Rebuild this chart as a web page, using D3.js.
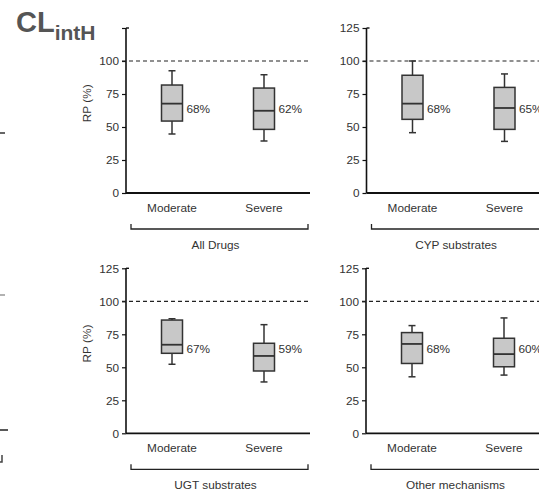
<!DOCTYPE html>
<html><head><meta charset="utf-8">
<script src="https://cdn.jsdelivr.net/npm/d3@7"></script>
<style>
html,body{margin:0;padding:0;background:#fff;}
svg{display:block;font-family:"Liberation Sans",Arial,sans-serif;}
</style></head>
<body><svg id="c" width="539" height="492"></svg>
<script>
// ---- data ----
const panelNames = ["All Drugs", "CYP substrates", "UGT substrates", "Other mechanisms"];
const categories = ["Moderate", "Severe"];
const whiskerLow  = [[44.7, 39.4], [45.7, 39.1], [52.3, 38.9], [42.8, 44.1]];
const q1          = [[54.5, 48.2], [55.8, 48.2], [60.6, 47.2], [52.9, 50.4]];
const median      = [[67.7, 62.3], [67.7, 64.4], [67.1, 58.6], [67.7, 60.0]];
const q3          = [[81.8, 79.5], [89.2, 80.0], [85.8, 68.2], [76.3, 72.0]];
const whiskerHigh = [[92.6, 89.6], [100, 90.2], [86.8, 82.3], [81.6, 87.4]];
const medianLabels = [["68%", "62%"], ["68%", "65%"], ["67%", "59%"], ["68%", "60%"]];
const yTicks = [0, 25, 50, 75, 100, 125];
const referenceLine = 100;

// ---- layout ----
const svg = d3.select("#c");
const axisX = [126, 366.5, 126, 366];
const baseY = [193, 193, 433.3, 433.3];
const plotW = 184, plotH = 165;
const boxW = 21, capW = 7;
const textCol = "#333";
const fs = 11.8;

// title
const title = svg.append("text").attr("x", 16).attr("y", 32)
  .attr("fill", "#555").attr("font-weight", "bold").attr("font-size", 29);
title.append("tspan").text("CL");
title.append("tspan").attr("font-size", 21).attr("dy", 8).text("intH");

// fragments of neighbouring (cropped) panels on the left edge
const frag = svg.append("g").attr("stroke-width", 1.5).attr("fill", "none");
frag.append("line").attr("x1", 0).attr("x2", 5).attr("y1", 133).attr("y2", 133).attr("stroke", "#333");
frag.append("line").attr("x1", 0).attr("x2", 5).attr("y1", 295).attr("y2", 295).attr("stroke", "#999");
frag.append("line").attr("x1", 0).attr("x2", 8).attr("y1", 430).attr("y2", 430).attr("stroke", "#222");
frag.append("path").attr("d", "M0,462 H2 V455").attr("stroke", "#444");

panelNames.forEach((name, p) => {
  const g = svg.append("g").attr("transform", `translate(${axisX[p]},${baseY[p]})`);
  const y = d3.scaleLinear().domain([0, 125]).range([0, -plotH]);
  const x = d3.scalePoint().domain(categories).range([0, plotW]).padding(0.5);

  // y axis
  const yAxis = d3.axisLeft(y).tickValues(yTicks).tickSize(4).tickPadding(3)
    .tickFormat(d => (p === 0 && d === 125) ? "" : d);
  const ya = g.append("g").call(yAxis);
  ya.select(".domain").attr("stroke", "#111").attr("stroke-width", 1.6).attr("d", `M0,${y(125)}V0`);
  ya.selectAll(".tick line").attr("stroke", "#111").attr("stroke-width", 1.2);
  ya.selectAll(".tick text").attr("font-size", fs).attr("fill", textCol)
    .attr("font-family", "Liberation Sans, Arial, sans-serif");
  // small cap at the top of the axis
  g.append("line").attr("x1", 0).attr("x2", 3).attr("y1", y(125)).attr("y2", y(125))
    .attr("stroke", "#111").attr("stroke-width", 1.4);

  // x axis line
  g.append("line").attr("x1", 0).attr("x2", plotW).attr("y1", 0).attr("y2", 0)
    .attr("stroke", "#111").attr("stroke-width", 1.8);

  // reference dashed line
  g.append("line").attr("x1", -4).attr("x2", plotW).attr("y1", y(referenceLine)).attr("y2", y(referenceLine))
    .attr("stroke", "#222").attr("stroke-width", 1.2).attr("stroke-dasharray", "4,3");

  // category labels
  categories.forEach(c => {
    g.append("text").attr("x", x(c)).attr("y", 19).attr("text-anchor", "middle")
      .attr("font-size", fs).attr("fill", textCol).text(c);
  });

  // bracket + group label
  g.append("path").attr("d", `M5,31 V36 H${plotW - 2} V31`).attr("fill", "none")
    .attr("stroke", "#222").attr("stroke-width", 1.3);
  g.append("text").attr("x", (5 + plotW) / 2 - 5).attr("y", 56).attr("text-anchor", "middle")
    .attr("font-size", fs).attr("fill", textCol).text(name);

  if (p % 2 === 0) {
    g.append("text").attr("transform", `translate(-35,${y(68)}) rotate(-90)`)
      .attr("text-anchor", "middle").attr("font-size", fs).attr("fill", textCol).text("RP (%)");
  }

  // boxes
  categories.forEach((c, i) => {
    const cx = x(c);
    const bg = g.append("g").attr("stroke", "#333").attr("stroke-width", 1.5);
    bg.append("line").attr("x1", cx).attr("x2", cx).attr("y1", y(whiskerLow[p][i])).attr("y2", y(whiskerHigh[p][i]));
    bg.append("line").attr("x1", cx - capW / 2).attr("x2", cx + capW / 2)
      .attr("y1", y(whiskerHigh[p][i])).attr("y2", y(whiskerHigh[p][i]));
    bg.append("line").attr("x1", cx - capW / 2).attr("x2", cx + capW / 2)
      .attr("y1", y(whiskerLow[p][i])).attr("y2", y(whiskerLow[p][i]));
    bg.append("rect").attr("x", cx - boxW / 2).attr("width", boxW)
      .attr("y", y(q3[p][i])).attr("height", y(q1[p][i]) - y(q3[p][i]))
      .attr("fill", "#c8c8c8");
    bg.append("line").attr("x1", cx - boxW / 2).attr("x2", cx + boxW / 2)
      .attr("y1", y(median[p][i])).attr("y2", y(median[p][i])).attr("stroke-width", 1.8);
    g.append("text").attr("x", cx + boxW / 2 + 4).attr("y", y(63.6)).attr("dy", "0.35em")
      .attr("font-size", fs).attr("fill", textCol).text(medianLabels[p][i]);
  });
});
</script></body></html>
